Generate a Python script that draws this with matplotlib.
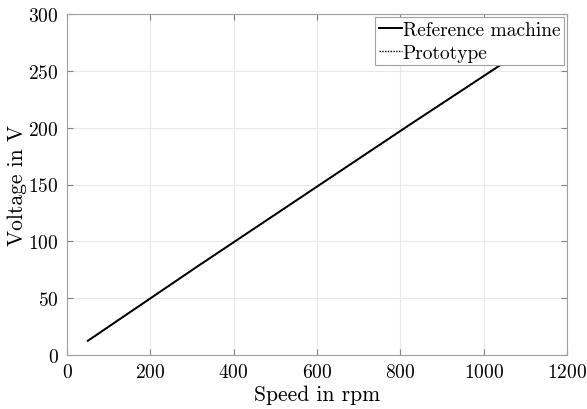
import matplotlib
matplotlib.use("Agg")
import matplotlib.pyplot as plt

plt.rcParams['font.family'] = 'serif'
plt.rcParams['font.serif'] = ['cmr10', 'DejaVu Serif']
plt.rcParams['mathtext.fontset'] = 'cm'
plt.rcParams['axes.formatter.use_mathtext'] = True

# Data
ref_speed = [50, 310, 820, 1050]
ref_voltage = [12.5, 77.2, 202.0, 257.5]
proto_speed = [50, 312, 822, 1050]
proto_voltage = [12.4, 77.5, 202.3, 257.3]

xticks = [0, 200, 400, 600, 800, 1000, 1200]
yticks = [0, 50, 100, 150, 200, 250, 300]

fig = plt.figure(figsize=(5.87, 4.10), dpi=100)
ax = fig.add_axes([67/587, 1 - 356/410, 500/587, 341/410])

ax.plot(ref_speed, ref_voltage, color='black', lw=1.4, ls='-', label='Reference machine')
ax.plot(proto_speed, proto_voltage, color='black', lw=1.0, ls=(0, (1, 1)), label='Prototype')

ax.set_xlim(0, 1200)
ax.set_ylim(0, 300)
ax.set_xticks(xticks)
ax.set_yticks(yticks)
ax.tick_params(labelsize=14, direction='in', length=4, color='#808080',
               top=True, right=True, pad=6)
ax.grid(True, color='#e8e8e8', lw=0.8)
ax.set_axisbelow(True)
for s in ax.spines.values():
    s.set_color('#a0a0a0')
    s.set_linewidth(0.8)

ax.set_xlabel('Speed in rpm', fontsize=15.5, labelpad=2)
ax.set_ylabel('Voltage in V', fontsize=15.5, labelpad=1)

leg = ax.legend(loc='upper right', fontsize=14, frameon=True, fancybox=False,
                framealpha=1, edgecolor='#a0a0a0', borderpad=0.2,
                handlelength=1.15, handletextpad=0.05, labelspacing=0.25,
                borderaxespad=0.15)
leg.get_frame().set_linewidth(0.8)

fig.savefig('out.png', dpi=100)
